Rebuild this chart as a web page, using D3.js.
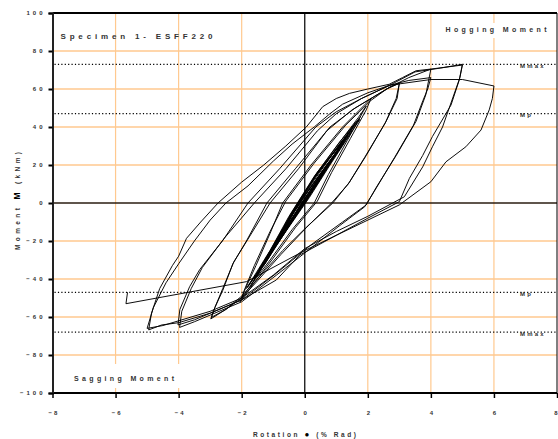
<!DOCTYPE html>
<html><head><meta charset="utf-8">
<script src="https://cdn.jsdelivr.net/npm/d3@7"></script>
<style>
body{margin:0;background:#fff}
svg{display:block}
text{font-family:"Liberation Sans",Arial,sans-serif;font-weight:bold;fill:#333}
</style>
</head><body>
<svg id="c" width="558" height="439"></svg>
<script>
// ---------- data ----------
const xTicks = [-8, -6, -4, -2, 0, 2, 4, 6, 8];
const yTicks = [-100, -80, -60, -40, -20, 0, 20, 40, 60, 80, 100];
const gridX = [-6, -4, -2, 2, 4, 6];
const gridY = [-80, -60, -40, -20, 20, 40, 60, 80];
const refLevels = [73, 47, -47, -68];
const refLabels = ["Mmax", "Mp", "Mp", "Mmax"];
const titleText = "Specimen 1- ESFF220";
const hogText = "Hogging Moment";
const sagText = "Sagging Moment";

// [rotation (% rad), moment (kNm)]
const elasticCycles = [
  [0,0],[0.4,11],[0.25,7],[-0.05,0],[-0.45,-10],[-0.6,-14],[-0.45,-10],[-0.15,-1],[0.4,12],
  [0.7,19],[0.5,14],[0.0,2],[-0.5,-11],[-0.85,-19],[-0.7,-15],[-0.3,-4],[0.1,6],[0.7,20],
  [0.75,21],[0.55,16],[-0.05,1],[-0.55,-12],[-0.9,-20],[-0.75,-16],[-0.35,-5],[0.05,5],[0.75,21],
  [1.0,26],[0.8,21],[0.2,6],[-0.3,-6],[-0.9,-21],[-1.15,-28],[-1.0,-24],[-0.5,-9],[0.0,4],[1.0,27],
  [1.05,28],[0.85,23],[0.15,5],[-0.35,-7],[-0.95,-22],[-1.2,-29],[-1.05,-25],[-0.55,-10],[-0.05,3],[1.05,28],
  [1.2,33],[1.0,27],[0.3,8],[-0.1,-2],[-0.8,-20],[-1.3,-33],[-1.15,-29],[-0.6,-13],[-0.3,-3],[0.3,12],[1.2,33],
  [1.25,32],[1.05,27],[0.4,12],[-0.2,-3],[-1.0,-23],[-1.4,-34],[-1.25,-30],[-0.7,-14],[-0.2,0],[0.5,18],[1.25,33],
  [1.3,34],[1.1,29],[0.35,11],[-0.25,-4],[-1.05,-24],[-1.45,-35],[-1.3,-31],[-0.75,-15],[-0.25,-1],[0.45,17],[1.3,34],
  [1.4,37],[1.2,32],[0.4,10],[-0.15,-3],[-0.9,-22],[-1.5,-38],[-1.35,-34],[-0.7,-16],[-0.35,-4],[0.3,13],[1.4,37],
  [1.5,38],[1.3,33],[0.6,16],[0.0,0],[-0.8,-19],[-1.6,-40],[-1.45,-36],[-0.9,-20],[-0.4,-5],[0.4,16],[1.5,39],
  [1.6,42],[1.4,37],[0.5,13],[-0.1,-2],[-1.0,-25],[-1.7,-43],[-1.55,-39],[-0.8,-18],[-0.4,-5],[0.3,13],[1.6,42],
  [1.75,44],[1.55,39],[0.8,20],[0.15,3],[-0.6,-15],[-1.85,-45],[-1.7,-41],[-1.1,-25],[-0.5,-7],[0.3,14],[1.1,32],[1.75,45],
  [1.55,40],[0.7,18],[0.05,1],[-0.7,-17],[-1.8,-44],[-1.6,-39],[-1.0,-23],[-0.45,-6],[0.35,15],[1.2,34],[1.7,45]
];
const cycles2 = [
  [1.95,51],[1.85,48],[1.35,33],[0.75,15],[0.3,0],[-0.4,-14],[-1.1,-30],[-1.7,-43],[-2.0,-50],
  [-1.88,-45],[-1.55,-33],[-1.1,-16],[-0.7,0],[0.2,20],[1.2,40],[2.1,55],
  [1.95,49],[1.45,34],[0.85,16],[0.4,1],[-0.3,-13],[-1.0,-29],[-1.6,-42],[-2.05,-52],
  [-1.92,-46],[-1.6,-33],[-1.1,-15],[-0.6,1],[0.3,21],[1.3,41],[2.1,54],[2.6,60],[3.0,63]
];
const cycles3 = [
  [2.93,55],[2.58,43],[1.95,25],[1.42,11],[0.89,0],[0.1,-12],[-0.7,-25],[-1.5,-40],[-2.0,-49],[-2.5,-56],[-2.96,-60.2],
  [-2.85,-55],[-2.6,-46],[-2.28,-32],[-1.85,-20],[-1.2,0],[-0.3,18],[0.8,40],[1.6,50],[2.2,56],[2.7,61],[3.0,63],
  [2.9,55],[2.55,42],[1.9,24],[1.38,10],[0.85,0],[0.05,-13],[-0.75,-27],[-1.5,-41],[-2.0,-50],[-2.5,-56],[-2.98,-61],
  [-2.85,-55],[-2.6,-45],[-2.25,-31],[-1.8,-19],[-1.1,0],[-0.2,18],[0.7,38],[1.5,49],[2.2,56],[2.7,61],[3.3,66],[4.0,70.5]
];
const cycles4 = [
  [3.84,57],[3.53,43],[2.9,25],[2.26,8],[1.95,-1],[1.2,-10],[0.2,-22],[-0.9,-37],[-2.0,-51],[-3.0,-58],[-3.5,-61.5],[-4.02,-64.2],
  [-3.96,-56],[-3.65,-44],[-3.33,-35],[-2.59,-19.5],[-1.8,0],[-0.8,18],[0.35,40],[1.0,48],[1.8,55],[2.7,62],[3.3,64.5],[4.0,66],
  [3.9,60],[3.75,54],[3.45,41],[2.85,24],[2.2,6],[1.9,-2],[1.1,-12],[0.1,-25],[-0.9,-38],[-2.0,-52],[-3.0,-59],[-3.5,-62.5],[-3.97,-65.5],
  [-3.9,-57],[-3.6,-45],[-3.25,-34],[-2.55,-18.5],[-1.6,0],[-0.6,18],[0.4,38],[1.0,47],[1.8,55],[2.7,62],[3.5,69],[4.3,71],[5.0,73]
];
const cycles5 = [
  [4.9,64.7],[4.64,51.6],[4.05,35],[3.74,25],[3.32,13],[3.0,0.7],[2.0,-8],[1.0,-17],[-0.16,-27.4],[-0.9,-40.5],[-2.0,-51],[-3.0,-58],[-4.0,-63],[-4.54,-64.2],[-4.95,-66.8],
  [-4.86,-58],[-4.6,-45],[-4.2,-33],[-4.0,-28],[-3.75,-18.6],[-3.3,-10],[-2.75,0],[-2.0,11],[-1.3,20],[-0.6,30],[0.05,40],[0.57,50.7],[1.0,55],[1.42,57.7],[2.0,60],[2.68,62.5],[3.1,66],[3.53,69.6],[4.0,70.5],[5.0,72.6],
  [4.92,66],[4.37,40],[4.05,29.6],[3.74,19],[3.16,3.3],[2.0,-7],[1.0,-15],[0.0,-24],[-1.0,-38],[-2.0,-50],[-3.0,-57],[-4.0,-62],[-4.5,-64.5],[-5.0,-66],
  [-4.8,-55],[-4.4,-42],[-4.0,-32],[-3.5,-20],[-3.0,-9],[-2.5,0],[-1.8,9],[-1.0,22],[-0.4,31],[0.3,40],[0.8,47],[1.2,52],[2.0,58],[2.7,62],[4.0,65],[5.0,65],[6.0,61.6]
];
const finalCycle = [
  [5.95,55],[5.85,49],[5.59,38.4],[5.11,29.6],[4.48,21.7],[4.0,11.2],[3.0,-1],[1.5,-13],[0.0,-25],[-1.85,-41.4],[-5.67,-53],[-5.62,-47]
];

// ---------- drawing ----------
const svg = d3.select("#c");
const x = d3.scaleLinear().domain([-8, 8]).range([52.5, 557]);
const y = d3.scaleLinear().domain([-100, 100]).range([393, 13]);
const gridColor = "#FFC98F";

// grid
svg.append("g").selectAll("line").data(gridX).join("line")
  .attr("x1", d => x(d)).attr("x2", d => x(d)).attr("y1", y(100)).attr("y2", y(-100))
  .attr("stroke", gridColor).attr("stroke-width", 1.2);
svg.append("g").selectAll("line").data(gridY).join("line")
  .attr("x1", x(-8)).attr("x2", x(8)).attr("y1", d => y(d)).attr("y2", d => y(d))
  .attr("stroke", gridColor).attr("stroke-width", 1.4);

// white boxes behind corner labels
svg.append("rect").attr("x", 440).attr("y", 23).attr("width", 112).attr("height", 15).attr("fill", "#fff");
svg.append("rect").attr("x", 68).attr("y", 364).attr("width", 114).attr("height", 24).attr("fill", "#fff");

// zero lines
svg.append("line").attr("x1", x(0)).attr("x2", x(0)).attr("y1", y(100)).attr("y2", y(-100))
  .attr("stroke", "#111").attr("stroke-width", 1.3);
svg.append("line").attr("x1", x(-8)).attr("x2", x(8)).attr("y1", y(0)).attr("y2", y(0))
  .attr("stroke", "#2a1c10").attr("stroke-width", 1.5);

// reference dotted lines
svg.append("g").selectAll("line").data(refLevels).join("line")
  .attr("x1", x(-8) + 2).attr("x2", x(8)).attr("y1", d => y(d)).attr("y2", d => y(d))
  .attr("stroke", "#000").attr("stroke-width", 1.3).attr("stroke-dasharray", "1.2,2.2");
svg.append("g").selectAll("text").data(refLevels).join("text")
  .attr("x", 520).attr("y", d => y(d) + 3.5)
  .attr("font-size", 6).style("letter-spacing", "2.2px")
  .text((d, i) => refLabels[i]);

// hysteresis path
const path = [].concat(elasticCycles, cycles2, cycles3, cycles4, cycles5, finalCycle);
const line = d3.line().x(d => x(d[0])).y(d => y(d[1]));
svg.append("path").datum(path).attr("d", line)
  .attr("fill", "none").attr("stroke", "#000").attr("stroke-width", 0.95).attr("stroke-linejoin", "round");

// frame
svg.append("line").attr("x1", x(-8)).attr("x2", x(8)).attr("y1", y(100)).attr("y2", y(100)).attr("stroke", "#000").attr("stroke-width", 2.2);
svg.append("line").attr("x1", x(-8)).attr("x2", x(8)).attr("y1", y(-100)).attr("y2", y(-100)).attr("stroke", "#000").attr("stroke-width", 2.2);
svg.append("line").attr("x1", x(8)).attr("x2", x(8)).attr("y1", y(100)).attr("y2", y(-100)).attr("stroke", "#000").attr("stroke-width", 1);

// axes
const yAxis = d3.axisLeft(y).tickValues(yTicks).tickSize(4).tickPadding(6).tickFormat(d3.format("d"));
const gy = svg.append("g").attr("transform", `translate(${x(-8)},0)`).call(yAxis);
gy.select(".domain").attr("stroke", "#222").attr("stroke-width", 2);
gy.selectAll(".tick line").attr("stroke", "#000").attr("stroke-width", 2);
gy.selectAll(".tick text").attr("font-size", 6).attr("fill", "#333")
  .style("font-family", '"Liberation Sans",Arial,sans-serif').style("font-weight", "bold")
  .style("letter-spacing", "3px").attr("dx", 3);

const xAxis = d3.axisBottom(x).tickValues(xTicks).tickSize(5).tickPadding(13).tickFormat(d3.format("d"));
const gx = svg.append("g").attr("transform", `translate(0,${y(-100)})`).call(xAxis);
gx.select(".domain").remove();
gx.selectAll(".tick line").attr("stroke", "#000").attr("stroke-width", 1.5);
gx.selectAll(".tick text").attr("font-size", 6).attr("fill", "#333")
  .style("font-family", '"Liberation Sans",Arial,sans-serif').style("font-weight", "bold")
  .style("letter-spacing", "2px").attr("dx", 1);
gx.selectAll(".tick text").filter(d => d === 8).attr("text-anchor", "end").attr("dx", 0).style("letter-spacing", "0px");

// labels
svg.append("text").attr("x", 60.5).attr("y", 38.5).attr("font-size", 8)
  .attr("textLength", 152).attr("lengthAdjust", "spacing").text(titleText);
svg.append("text").attr("x", 445.5).attr("y", 31.5).attr("font-size", 7)
  .attr("textLength", 101).attr("lengthAdjust", "spacing").text(hogText);
svg.append("text").attr("x", 74).attr("y", 380.5).attr("font-size", 7)
  .attr("textLength", 100).attr("lengthAdjust", "spacing").text(sagText);

// axis titles
const xt = svg.append("text").attr("x", 253).attr("y", 436.5).attr("font-size", 6.5)
  .attr("textLength", 103).attr("lengthAdjust", "spacing");
xt.append("tspan").text("Rotation ");
xt.append("tspan").attr("fill", "#000").attr("font-size", 8).text("●");
xt.append("tspan").text(" (% Rad)");

const yt = svg.append("text").attr("transform", "translate(20,250) rotate(-90)").attr("font-size", 6.5)
  .attr("textLength", 98).attr("lengthAdjust", "spacing");
yt.append("tspan").text("Moment ");
yt.append("tspan").attr("fill", "#000").attr("font-size", 8.5).text("M");
yt.append("tspan").text(" (kNm)");
</script>
</body></html>
